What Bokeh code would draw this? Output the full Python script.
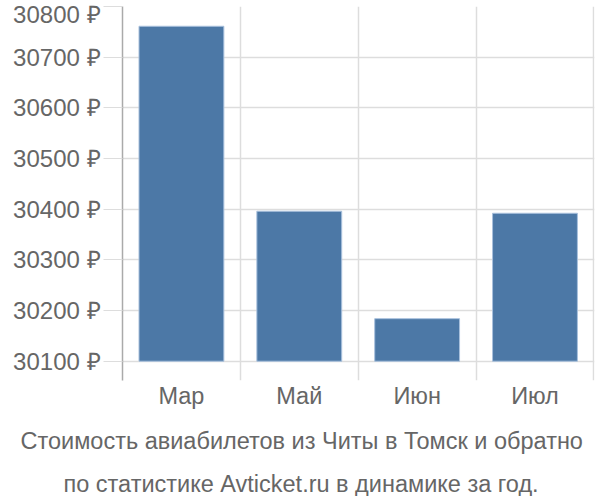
from bokeh.plotting import figure
from bokeh.models import FixedTicker, Range1d, Title, ColumnDataSource
from bokeh.embed import file_html
from bokeh.resources import INLINE

months = ["Мар", "Май", "Июн", "Июл"]
prices = [30761, 30396, 30184, 30392]
y_ticks = [30100, 30200, 30300, 30400, 30500, 30600, 30700, 30800]
title_lines = ["Стоимость авиабилетов из Читы в Томск и обратно",
               "по статистике Avticket.ru в динамике за год."]

FONT = "Liberation Sans"
TXT = "#666666"

xs = [i + 0.5 for i in range(len(months))]
src = ColumnDataSource(dict(x=xs, top=prices, m=months))

p = figure(width=596, height=496, output_backend="svg", toolbar_location=None,
           x_range=Range1d(0, 4.005), y_range=Range1d(30062, 30800),
           min_border_left=122, min_border_right=2, min_border_top=6, min_border_bottom=0)
p.outline_line_color = None

p.vbar(x="x", top="top", bottom=30100, width=0.72, source=src,
       fill_color="#4c78a6", line_color="#a9c1dd", line_width=1)

# y axis
p.yaxis.ticker = FixedTicker(ticks=y_ticks)
p.yaxis.major_label_overrides = {t: f"{t} ₽" for t in y_ticks}
p.yaxis.minor_tick_line_color = None
p.yaxis.major_tick_line_color = "#dddddd"
p.yaxis.major_tick_out = 19
p.yaxis.major_tick_in = 0
p.yaxis.axis_line_color = "#aaaaaa"
p.yaxis.axis_line_width = 1.5
p.yaxis.major_label_standoff = 3
p.yaxis.major_label_text_font = FONT
p.yaxis.major_label_text_font_size = "24px"
p.yaxis.major_label_text_color = TXT

# x axis
p.xaxis.ticker = FixedTicker(ticks=xs)
p.xaxis.major_label_overrides = {x: m for x, m in zip(xs, months)}
p.xaxis.axis_line_color = None
p.xaxis.major_tick_line_color = None
p.xaxis.minor_tick_line_color = None
p.xaxis.major_label_standoff = -4
p.xaxis.major_label_text_font = FONT
p.xaxis.major_label_text_font_size = "23.5px"
p.xaxis.major_label_text_color = TXT

p.ygrid.ticker = FixedTicker(ticks=y_ticks)
p.ygrid.grid_line_color = "#dddddd"
p.ygrid.grid_line_width = 1.5
p.xgrid.ticker = FixedTicker(ticks=[1, 2, 3, 4])
p.xgrid.grid_line_color = "#dddddd"
p.xgrid.grid_line_width = 1.5

for line, so, off in zip(title_lines, [29, 0], [-102, -59]):
    p.add_layout(Title(text=line, align="left", offset=off, text_font=FONT,
                       text_font_size="23.5px", text_font_style="normal",
                       text_color=TXT, standoff=so), "below")

open("out.html", "w").write(file_html(p, INLINE))
